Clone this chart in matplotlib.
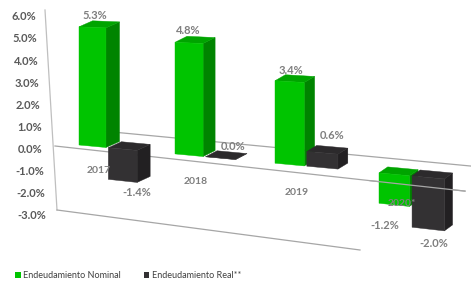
import matplotlib
matplotlib.use("Agg")
import matplotlib.pyplot as plt
from matplotlib.patches import Polygon, Patch

# datos
years = ["2017", "2018", "2019", "2020*"]
nominal = [5.3, 4.8, 3.4, -1.2]
real = [-1.4, 0.0, 0.6, -2.0]
series_names = ["Endeudamiento Nominal", "Endeudamiento Real**"]
ticks = [6, 5, 4, 3, 2, 1, 0, -1, -2, -3]

plt.rcParams['font.family'] = ['Lato', 'DejaVu Sans']

# colores (frente, lado, arriba)
green = ("#00c400", "#008400", "#00a400")
dark = ("#333133", "#222022", "#2c2a2c")
label_gray = "#7f7f7f"
tick_gray = "#595959"
line_gray = "#a6a6a6"


# vista 3d imitada: todo en pixeles, y hacia abajo
def sx(c):
    return 79 + 94 * c + 2 * c * c


def py(x, v):
    return 145 + 0.093 * (x - 79) - (22.3 + 0.01 * (x - 79)) * v


def depth(x):
    return 14 - 0.016 * (x - 79), -6


def bar(ax, c0, c1, v, cols):
    xl, xr = sx(c0), sx(c1)
    v0, v1 = min(0, v), max(0, v)
    ddx, ddy = depth(xr)
    front = [(xl, py(xl, v0)), (xr, py(xr, v0)), (xr, py(xr, v1)), (xl, py(xl, v1))]
    top = [(xl, py(xl, v1)), (xr, py(xr, v1)),
           (xr + ddx, py(xr, v1) + ddy), (xl + ddx, py(xl, v1) + ddy)]
    side = [(xr, py(xr, v0)), (xr + ddx, py(xr, v0) + ddy),
            (xr + ddx, py(xr, v1) + ddy), (xr, py(xr, v1))]
    for pts, col in ((side, cols[1]), (top, cols[2]), (front, cols[0])):
        ax.add_patch(Polygon(pts, closed=True, facecolor=col, edgecolor=col,
                             lw=0.3, zorder=3))
    mid = (xl + xr) / 2
    if v >= 0:
        return mid + 0.3 * ddx, py(mid, v1) - 12
    return mid + 0.5 * ddx, py(mid, v0) + 14


fig = plt.figure(figsize=(4.71, 2.86), dpi=100)
ax = fig.add_axes([0, 0, 1, 1])
ax.set_xlim(0, 471)
ax.set_ylim(286, 0)
ax.axis("off")

# paredes y lineas del plano
ax.plot([45, 57], [10, 210], color="#bfbfbf", lw=0.9, zorder=1)
ax.plot([57, 360], [210, 250], color=line_gray, lw=0.9, zorder=1)
ax.plot([80, 471], [133 + 0.095 * (80 - 123), 133 + 0.095 * (471 - 123)],
        color=line_gray, lw=0.9, zorder=1)
ax.plot([55, 465], [146, 146 + 0.11 * 410], color=line_gray, lw=0.9, zorder=1)
ax.plot([370, 465], [146 + 0.11 * 315, 146 + 0.11 * 410], color=line_gray,
        lw=0.9, zorder=5)

for t in ticks:
    ax.text(36 + 1.1 * (6 - t), 149.5 - 22.1 * t, f"{t:.1f}%", ha="right",
            va="center", fontsize=8, fontweight="bold", color=tick_gray)

nudge_nom = [(-2, 0), (-4, 0), (-2, 1), (-14, 7)]
nudge_real = [(8, -2), (9, 0), (6.5, -5.5), (1, 0)]

for i, year in enumerate(years):
    lx, ly = bar(ax, i, i + 0.285, nominal[i], green)
    ax.text(lx + nudge_nom[i][0], ly + nudge_nom[i][1], f"{nominal[i]:.1f}%",
            ha="center", va="center", fontsize=8, fontweight="bold",
            color=label_gray, zorder=6)
    lx, ly = bar(ax, i + 0.31, i + 0.61, real[i], dark)
    ax.text(lx + nudge_real[i][0], ly + nudge_real[i][1], f"{real[i]:.1f}%",
            ha="center", va="center", fontsize=8, fontweight="bold",
            color=label_gray, zorder=6)
    cx = sx(i + 0.3) - 9
    ax.text(cx, py(cx, 0) + 24 + 0.015 * (cx - 108), year, ha="center",
            va="center", fontsize=7.5, fontweight="bold", color=label_gray,
            zorder=6)

handles = [Patch(facecolor=green[0]), Patch(facecolor=dark[0])]
fig.legend(handles, series_names, loc="center left", bbox_to_anchor=(0.015, 0.035),
           ncol=2, frameon=False, fontsize=6.5, handlelength=0.6, handleheight=0.6,
           handletextpad=0.3, columnspacing=2.5, labelcolor="#404040")

fig.savefig("out.png", dpi=100)
